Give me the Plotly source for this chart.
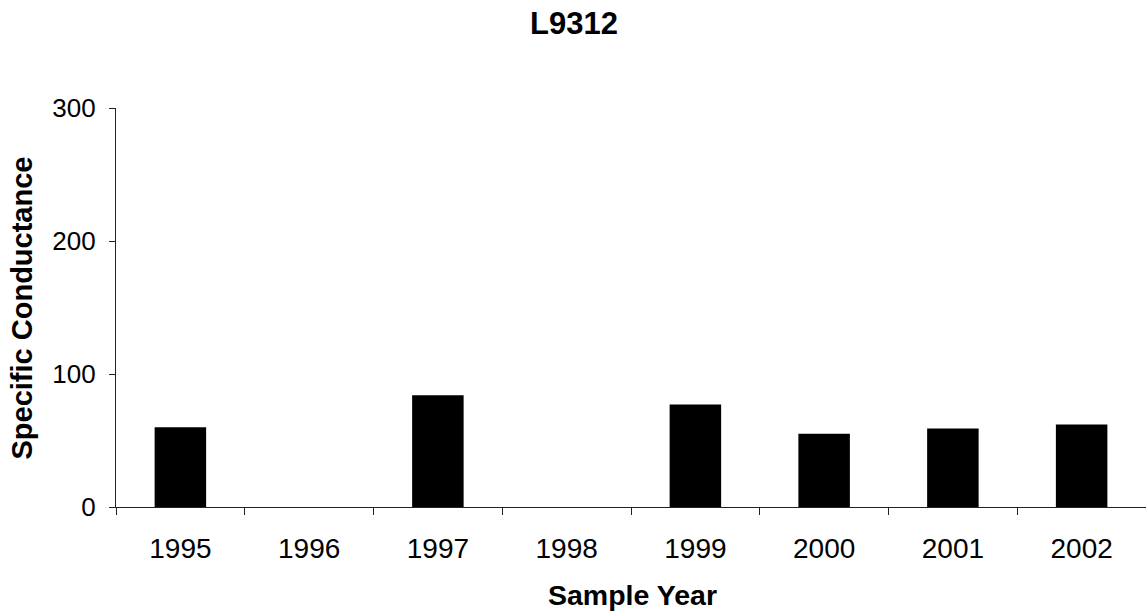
import plotly.graph_objects as go

years = ["1995", "1996", "1997", "1998", "1999", "2000", "2001", "2002"]
conductance = [60, None, 84, None, 77, 55, 59, 62]
y_ticks = [0, 100, 200, 300]

font = "Liberation Sans, Arial, sans-serif"
W, H = 1146, 615
L, T, B = 116, 108, 108
plot_w = W - L
plot_h = H - T - B

fig = go.Figure(go.Bar(x=years, y=conductance,
                       marker=dict(color="black", line=dict(width=0)), width=0.4))

fig.update_layout(
    width=W, height=H,
    margin=dict(l=L, r=0, t=T, b=B, autoexpand=False),
    paper_bgcolor="white", plot_bgcolor="white",
    showlegend=False,
    font=dict(family=font, size=28, color="black"),
    title=dict(text="<b>L9312</b>", x=574 / W, xref="container", xanchor="center",
               y=1 - 23.5 / H, yanchor="middle", font=dict(size=31, family=font)),
    annotations=[
        dict(text="<b>Sample Year</b>", xref="paper", yref="paper",
             x=(632.5 - L) / plot_w, y=-(595 - (H - B)) / plot_h,
             xanchor="center", yanchor="middle", showarrow=False,
             font=dict(size=28.5, family=font)),
        dict(text="<b>Specific Conductance</b>", xref="paper", yref="paper",
             x=-(L - 21.5) / plot_w, y=((H - B) - 308) / plot_h, textangle=-90,
             xanchor="center", yanchor="middle", showarrow=False,
             font=dict(size=29, family=font)),
    ],
)
fig.update_xaxes(
    type="category", categoryorder="array", categoryarray=years,
    showline=True, linecolor="#222", linewidth=1.3,
    ticks="outside", tickson="boundaries", ticklen=7, tickcolor="#222", tickwidth=1.3,
    showgrid=False, tickfont=dict(size=28), ticklabelstandoff=16, automargin=False,
)
fig.update_yaxes(
    range=[0, 300], tickvals=y_ticks, showline=True, linecolor="#222", linewidth=1.3,
    ticks="outside", ticklen=6, tickcolor="#222", tickwidth=1.3,
    showgrid=False, zeroline=False, tickfont=dict(size=26), ticklabelstandoff=8,
    automargin=False,
)

fig.write_html("out.html", config={"displayModeBar": False},
               post_script="document.body.style.margin='0';")
